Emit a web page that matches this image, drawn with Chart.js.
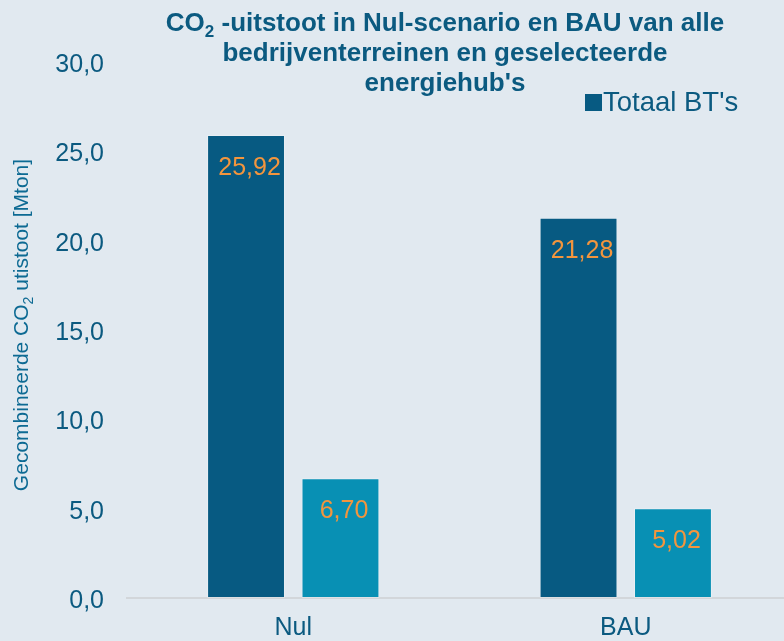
<!DOCTYPE html>
<html>
<head>
<meta charset="utf-8">
<script src="https://cdn.jsdelivr.net/npm/chart.js@4.4.1/dist/chart.umd.min.js"></script>
<style>
  html, body { margin: 0; padding: 0; background: #e1e9f0; overflow: hidden; }
  #wrap { width: 792px; height: 641px; }
</style>
</head>
<body>
<div id="wrap"><canvas id="chart"></canvas></div>
<script>
// data
const categories = ["Nul", "BAU"];
const totaalBT = [25.92, 21.28];
const energiehubs = [6.70, 5.02];
const yTicks = [0, 5, 10, 15, 20, 25, 30];

const TEXT = "#0b5a80";
const FONT = '"Liberation Sans", Arial, sans-serif';

// draws text pieces, some as subscript
function drawParts(ctx, parts, x, y, size, bold, align) {
  const font = s => (bold ? "bold " : "") + s + "px " + FONT;
  let total = 0;
  parts.forEach(p => {
    ctx.font = font(p.sub ? Math.round(size * 0.65) : size);
    p.w = ctx.measureText(p.t).width;
    total += p.w;
  });
  let cx = align === "center" ? x - total / 2 : x;
  ctx.textAlign = "left";
  ctx.textBaseline = "alphabetic";
  parts.forEach(p => {
    ctx.font = font(p.sub ? Math.round(size * 0.65) : size);
    ctx.fillText(p.t, cx, p.sub ? y + size * 0.22 : y);
    cx += p.w;
  });
}

const titleLines = [
  [{ t: "CO" }, { t: "2", sub: true }, { t: " -uitstoot in Nul-scenario en BAU van alle" }],
  [{ t: "bedrijventerreinen en geselecteerde" }],
  [{ t: "energiehub's" }]
];
const yTitle = [{ t: "Gecombineerde CO" }, { t: "2", sub: true }, { t: " utistoot [Mton]" }];

const fmt = (v, d) => v.toFixed(d).replace(".", ",");

// title, legend and y title are drawn on top of the plot like the original
const overlay = {
  id: "overlay",
  afterDraw(chart) {
    const ctx = chart.ctx;
    ctx.save();
    ctx.fillStyle = TEXT;
    titleLines.forEach((line, i) => drawParts(ctx, line, 445, 31 + i * 30, 26, true, "center"));

    // legend: only first series
    const ds = chart.data.datasets[0];
    ctx.fillStyle = ds.backgroundColor;
    ctx.fillRect(585, 94, 17, 17);
    ctx.fillStyle = TEXT;
    ctx.font = "27.5px " + FONT;
    ctx.textAlign = "left";
    ctx.textBaseline = "alphabetic";
    ctx.fillText(ds.label, 603, 111);

    // y axis title
    ctx.translate(28, 325);
    ctx.rotate(-Math.PI / 2);
    ctx.fillStyle = "#0d6a93";
    drawParts(ctx, yTitle, 0, 0, 21, false, "center");
    ctx.restore();
  }
};

const valueLabels = {
  id: "valueLabels",
  afterDatasetsDraw(chart) {
    const ctx = chart.ctx;
    ctx.save();
    ctx.fillStyle = "#f3953d";
    ctx.font = "25px " + FONT;
    ctx.textAlign = "center";
    ctx.textBaseline = "alphabetic";
    chart.data.datasets.forEach((ds, i) => {
      chart.getDatasetMeta(i).data.forEach((bar, j) => {
        ctx.fillText(fmt(ds.data[j], 2), bar.x + 3.5, bar.y + 40);
      });
    });
    ctx.restore();
  }
};

new Chart(document.getElementById("chart"), {
  type: "bar",
  data: {
    labels: categories,
    datasets: [
      {
        label: "Totaal BT's",
        data: totaalBT,
        backgroundColor: "#075a82",
        borderColor: "rgba(255,255,255,0.22)",
        borderWidth: 1,
        borderSkipped: false
      },
      {
        label: "Energiehub's",
        data: energiehubs,
        backgroundColor: "#0890b4",
        borderColor: "rgba(255,255,255,0.3)",
        borderWidth: 1,
        borderSkipped: false
      }
    ]
  },
  options: {
    responsive: true,
    maintainAspectRatio: false,
    animation: false,
    categoryPercentage: 0.568,
    barPercentage: 0.825,
    layout: { padding: { top: 62, right: 0, bottom: 0, left: 0 } },
    plugins: {
      legend: { display: false },
      title: { display: false },
      tooltip: { enabled: false }
    },
    scales: {
      x: {
        grid: { display: false, drawTicks: false },
        border: { display: true, color: "#d2d6da", width: 2 },
        ticks: { color: TEXT, font: { family: FONT, size: 25 }, padding: 15 },
        afterFit: s => { s.height = 43; }
      },
      y: {
        min: 0,
        max: 30,
        afterBuildTicks: s => { s.ticks = yTicks.map(v => ({ value: v })); },
        grid: { display: false, drawTicks: false },
        border: { display: false },
        ticks: {
          color: TEXT,
          font: { family: FONT, size: 25 },
          padding: 23,
          labelOffset: 3,
          callback: v => fmt(v, 1)
        },
        afterFit: s => { s.width = 127; }
      }
    }
  },
  plugins: [overlay, valueLabels]
});
</script>
</body>
</html>
